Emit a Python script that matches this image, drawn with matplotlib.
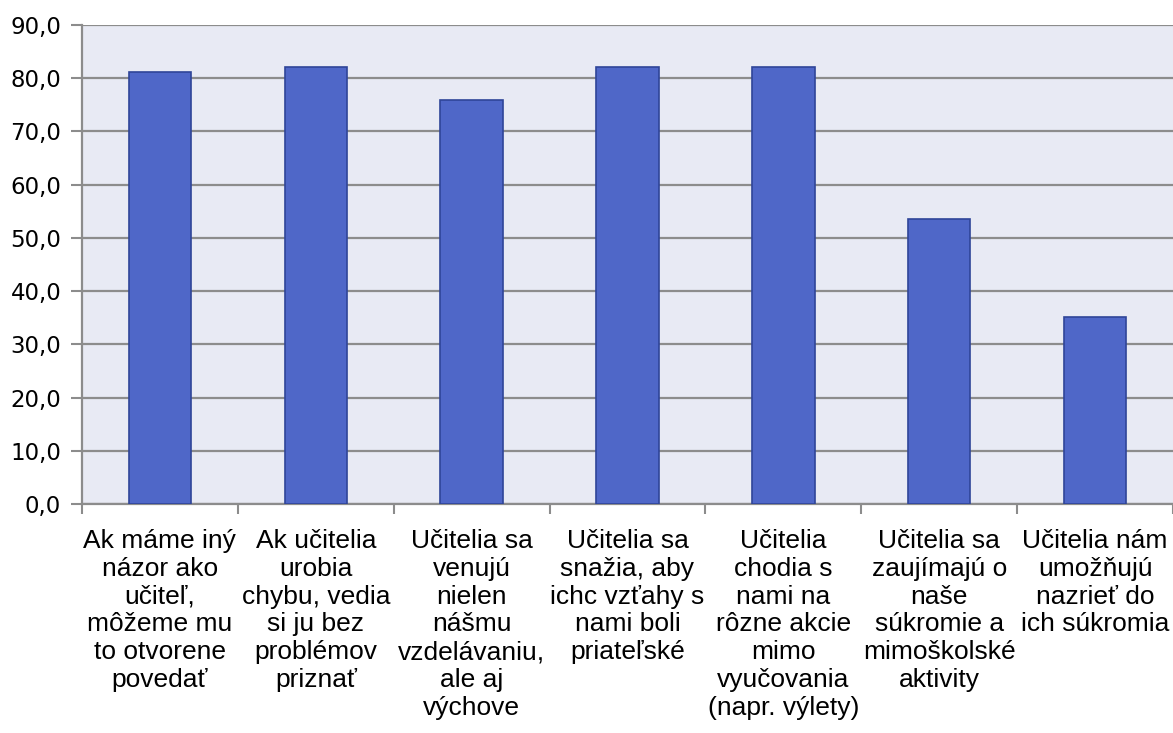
import numpy as np
import matplotlib.pyplot as plt
from matplotlib.ticker import FuncFormatter

# Hodnoty z grafu (percentá)
kategorie = [
    "Ak máme iný\nnázor ako\nučiteľ,\nmôžeme mu\nto otvorene\npovedať",
    "Ak učitelia\nurobia\nchybu, vedia\nsi ju bez\nproblémov\npriznať",
    "Učitelia sa\nvenujú\nnielen\nnášmu\nvzdelávaniu,\nale aj\nvýchove",
    "Učitelia sa\nsnažia, aby\nichc vzťahy s\nnami boli\npriateľské",
    "Učitelia\nchodia s\nnami na\nrôzne akcie\nmimo\nvyučovania\n(napr. výlety)",
    "Učitelia sa\nzaujímajú o\nnaše\nsúkromie a\nmimoškolské\naktivity",
    "Učitelia nám\numožňujú\nnazrieť do\nich súkromia",
]
hodnoty = [81.1, 82.2, 75.9, 82.2, 82.2, 53.6, 35.2]

fig = plt.figure(figsize=(11.73, 7.33), dpi=100)
ax = fig.add_axes([0.0699, 0.3124, 0.9301, 0.6535])
ax.set_facecolor("#e8eaf4")

x = np.arange(len(hodnoty))
ax.bar(x, hodnoty, width=0.4, color="#4f67c8", edgecolor="#2f4598",
       linewidth=1.2, zorder=3)

# mriežka a osi
ax.set_ylim(0, 90)
ax.set_yticks(np.arange(0, 91, 10))
ax.yaxis.set_major_formatter(FuncFormatter(lambda v, p: f"{v:.1f}".replace(".", ",")))
ax.grid(axis="y", color="#8c8c8c", linewidth=1.6, zorder=1)
ax.set_xlim(-0.5, len(hodnoty) - 0.5)

ax.set_xticks(np.arange(len(hodnoty) + 1) - 0.5)
ax.set_xticklabels([])
ax.set_xticks(x, minor=True)
ax.set_xticklabels(kategorie, minor=True, fontsize=19, family="Liberation Sans",
                   linespacing=1.2)
ax.tick_params(axis="x", which="minor", length=0, pad=18)
ax.tick_params(axis="x", which="major", length=7, width=1.5, color="#8c8c8c")
ax.tick_params(axis="y", length=8, width=1.5, color="#8c8c8c", labelsize=16.5, pad=7)

for s in ["top", "right"]:
    ax.spines[s].set_visible(False)
for s in ["left", "bottom"]:
    ax.spines[s].set_color("#8c8c8c")
    ax.spines[s].set_linewidth(1.6)

plt.savefig("out.png", dpi=100)
